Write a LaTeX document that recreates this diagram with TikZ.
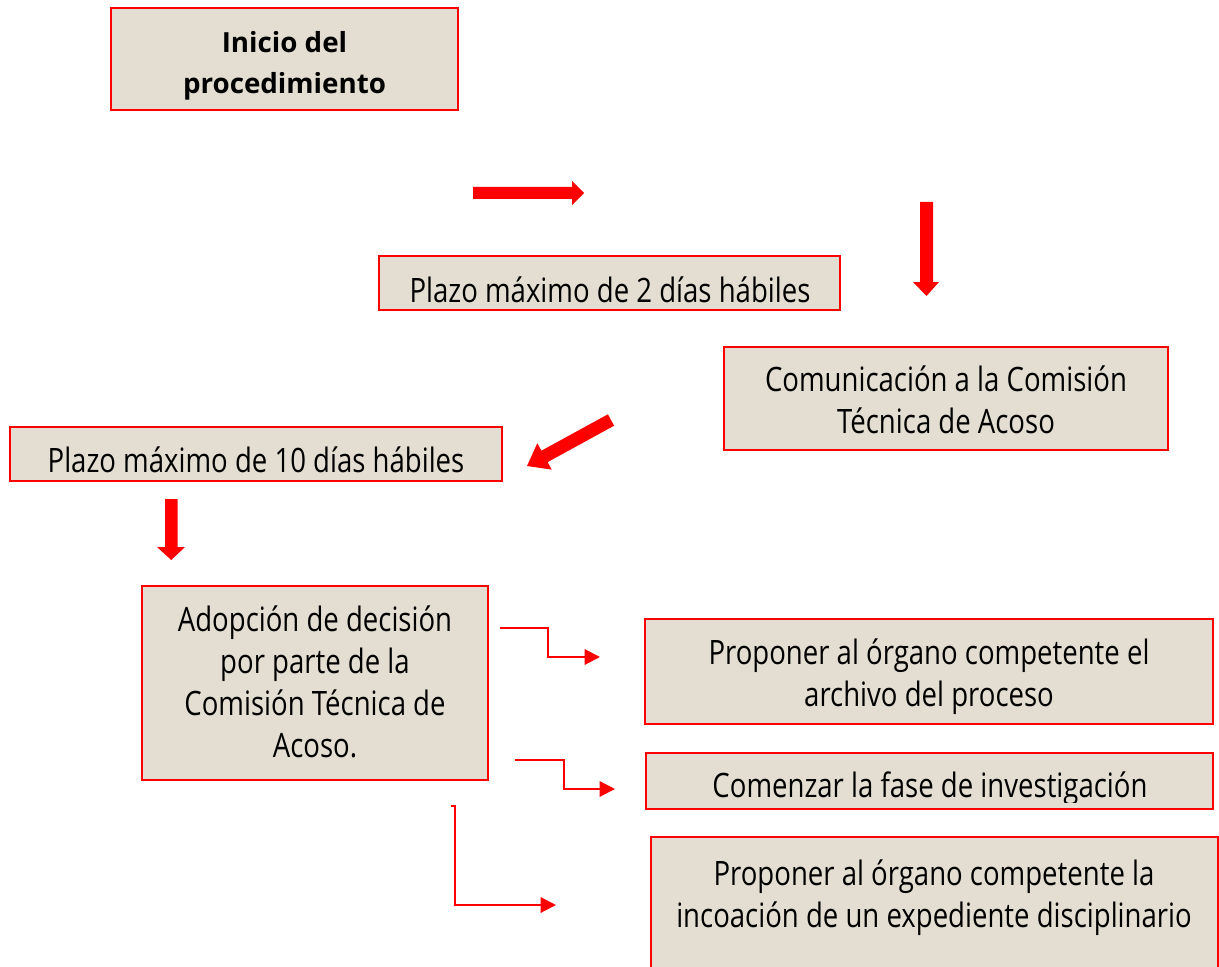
\documentclass[tikz,border=0pt]{standalone}
\usepackage{fontspec}
\setmainfont{Open Sans}[FakeStretch=0.82]
\newfontfamily\titlefont{Open Sans}
\usetikzlibrary{arrows.meta}
\definecolor{boxfill}{RGB}{227,222,209}
\definecolor{boxred}{RGB}{255,0,0}
\tikzset{
  box/.style={draw=boxred, line width=1.5pt, fill=boxfill, inner sep=0pt},
  txt/.style={inner sep=0pt, align=center, font=\fontsize{25.2}{31.5}\selectfont},
  titletxt/.style={inner sep=0pt, align=center, font=\titlefont\bfseries\fontsize{20.8}{30.75}\selectfont},
  conn/.style={draw=boxred, line width=1.5pt, -{Triangle[length=11.5pt,width=11.5pt]}},
  blockarrow/.style={fill=boxred, draw=none}
}
\begin{document}
\begin{tikzpicture}[x=0.75pt,y=-0.75pt]
\useasboundingbox (0,0) rectangle (1219,966);
\clip (0,0) rectangle (1219,966);

% boxes
\node[box, minimum width=260.25pt, minimum height=76.5pt] (b1) at (284.5,59) {};
\node[titletxt] (t1) at (284.5,65.5) {Inicio del\\procedimiento};

\node[box, minimum width=345.75pt, minimum height=40.5pt] (b2) at (609.5,283) {};
\node[txt] (t2) at (610,289.5) {Plazo máximo de 2 días hábiles};

\node[box, minimum width=333pt, minimum height=77.25pt] (b3) at (946,398.5) {};
\node[txt] (t3) at (946,400) {Comunicación a la Comisión\\Técnica de Acoso};

\node[box, minimum width=369pt, minimum height=40.5pt] (b4) at (256,454) {};
\node[txt] (t4) at (256,460) {Plazo máximo de 10 días hábiles};

\node[box, minimum width=259.5pt, minimum height=145.5pt] (b5) at (315,683) {};
\node[txt] (t5) at (315,682) {Adopción de decisión\\por parte de la\\Comisión Técnica de\\Acoso.};

\node[box, minimum width=426pt, minimum height=78.75pt] (b6) at (929,671.5) {};
\node[txt] (t6) at (929,677) {Proponer al órgano competente el\\archivo del proceso};

\node[box, minimum width=425.25pt, minimum height=42pt] (b7) at (929.5,781) {};
\begin{scope}
\clip (646,753) rectangle (1213,802);
\node[txt] (t7) at (930,789) {Comenzar la fase de investigación};
\end{scope}

\node[box, minimum width=425.25pt, minimum height=150pt, anchor=north] (b8) at (934.5,836) {};
\node[txt] (t8) at (934,897.5) {Proponer al órgano competente la\\incoación de un expediente disciplinario};

% block arrows
\fill[blockarrow] (473,187) -- (572,187) -- (572,181) -- (584,193) -- (572,205) -- (572,199) -- (473,199) -- cycle;
\fill[blockarrow] (920,202) -- (933,202) -- (933,282) -- (939,282) -- (926.5,296) -- (913,282) -- (920,282) -- cycle;
\fill[blockarrow] (614.1,425.7) -- (607.9,414.3) -- (541.4,450.7) -- (537.3,443.2) -- (527,466) -- (551.7,469.6) -- (547.6,462.1) -- cycle;
\fill[blockarrow] (165,499) -- (177.5,499) -- (177.5,547) -- (185,547) -- (171.25,560) -- (157,547) -- (165,547) -- cycle;

% elbow connectors
\coordinate (e1s) at (500,628);
\coordinate (e1m) at (548,640);
\coordinate (e1e) at (600,657);
\draw[conn] (e1s) -| (e1m) |- (e1e);

\coordinate (e2s) at (515,760);
\coordinate (e2m) at (564,775);
\coordinate (e2e) at (615,789);
\draw[conn] (e2s) -| (e2m) |- (e2e);

\coordinate (e3s) at (451,806);
\coordinate (e3m) at (455,850);
\coordinate (e3e) at (556,905);
\draw[conn] (e3s) -| (e3m) |- (e3e);
\end{tikzpicture}
\end{document}
